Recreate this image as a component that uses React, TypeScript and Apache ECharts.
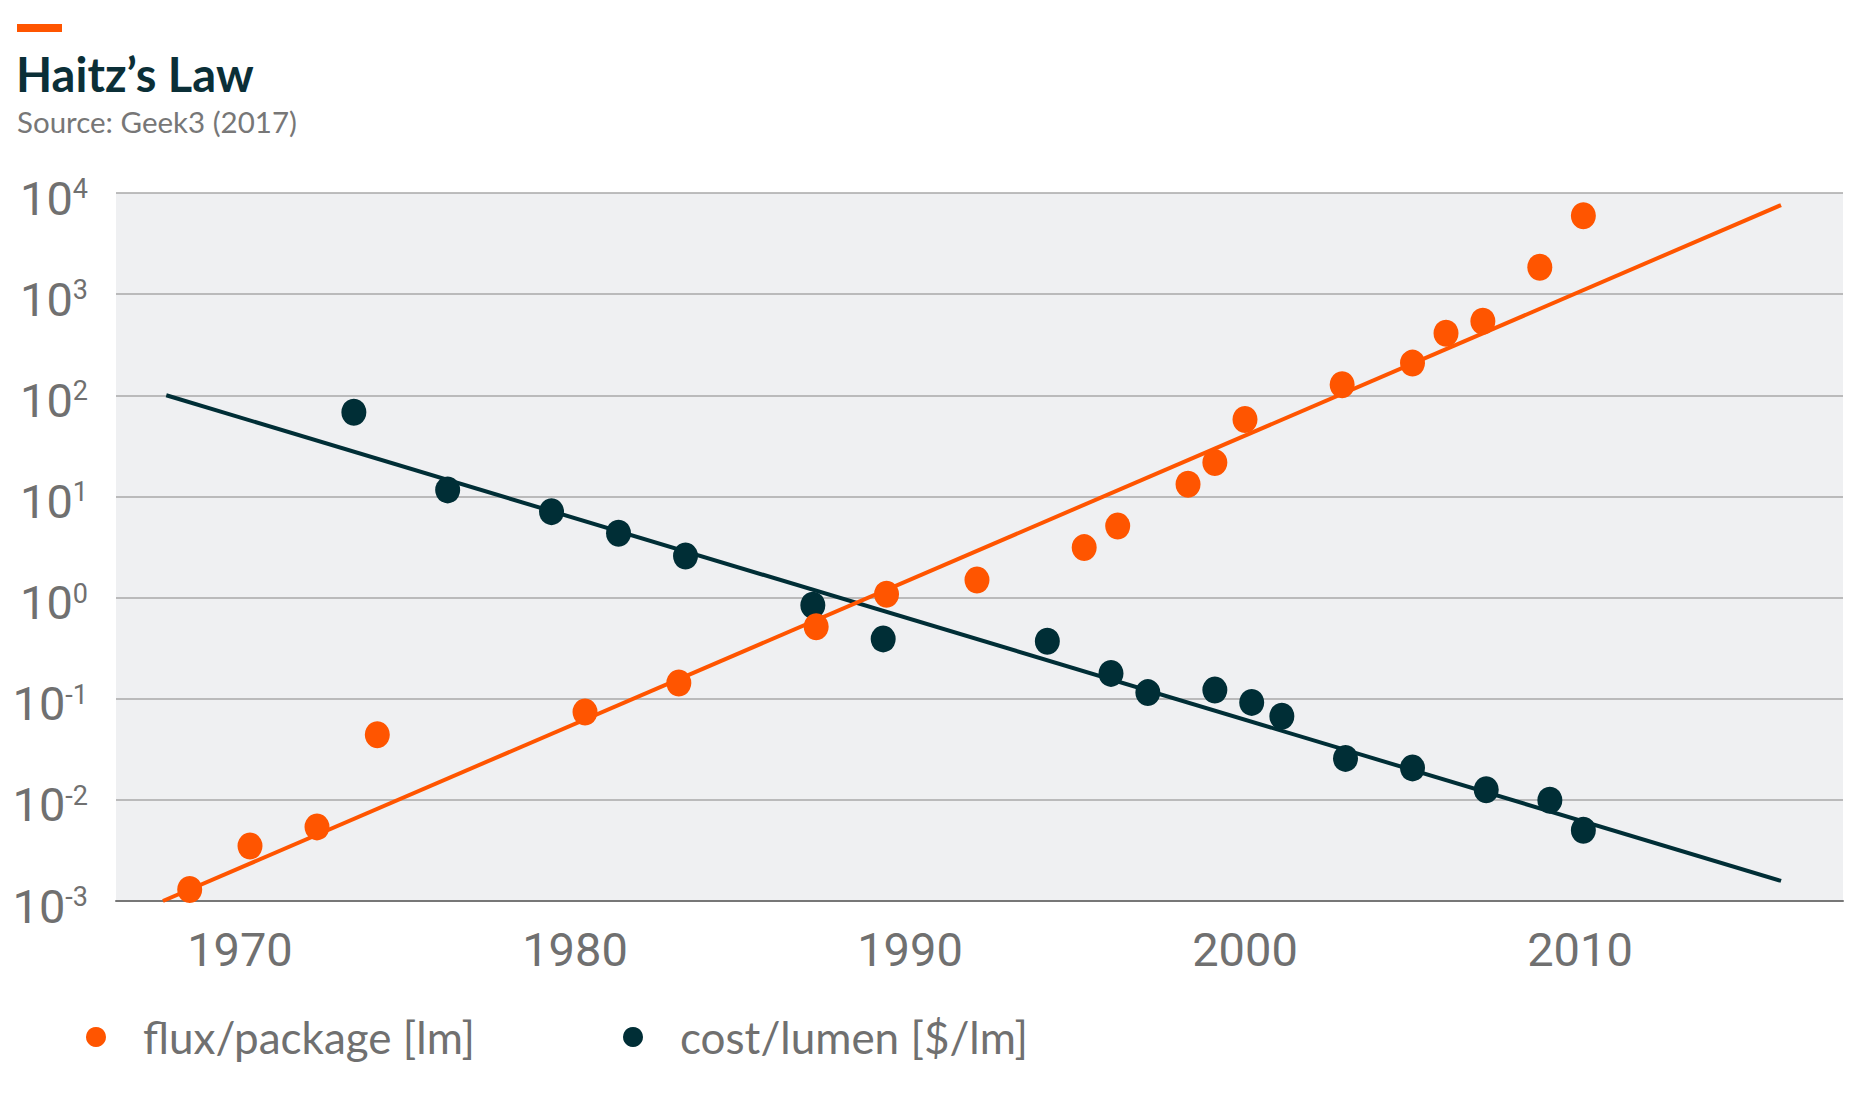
import React, { useEffect, useRef } from "react";
import * as echarts from "echarts";

const titleText = "Haitz’s Law";
const sourceText = "Source: Geek3 (2017)";

const xTickYears = [1970, 1980, 1990, 2000, 2010];

const fluxName = "flux/package [lm]";
const costName = "cost/lumen [$/lm]";

const fluxYears = [1968.5, 1970.3, 1972.3, 1974.1, 1980.3, 1983.1, 1987.2, 1989.3, 1992.0, 1995.2, 1996.2, 1998.3, 1999.1, 2000.0, 2002.9, 2005.0, 2006.0, 2007.1, 2008.8, 2010.1];
const fluxValues = [0.0013, 0.0035, 0.0054, 0.044, 0.074, 0.143, 0.515, 1.08, 1.49, 3.12, 5.1, 13.2, 21.6, 57.7, 127, 208, 411, 540, 1845, 5960];

const costYears = [1973.4, 1976.2, 1979.3, 1981.3, 1983.3, 1987.1, 1989.2, 1994.1, 1996.0, 1997.1, 1999.1, 2000.2, 2001.1, 2003.0, 2005.0, 2007.2, 2009.1, 2010.1];
const costValues = [68, 11.6, 7.07, 4.33, 2.58, 0.84, 0.39, 0.37, 0.178, 0.115, 0.122, 0.092, 0.067, 0.0257, 0.0207, 0.0126, 0.0099, 0.005];

const fluxTrendYears = [1967.7, 2016.0];
const fluxTrendValues = [0.001, 7600];
const costTrendYears = [1967.8, 2016.0];
const costTrendValues = [100, 0.00158];

const ORANGE = "#ff5500";
const DARK = "#002e36";
const GRAY_TEXT = "#707070";

const zip = (xs: number[], ys: number[]) => xs.map((x, i) => [x, ys[i]]);

const legendBase = {
  top: 1010,
  icon: "circle",
  itemWidth: 20,
  itemHeight: 22,
  textStyle: {
    fontFamily: "Lato",
    fontSize: 44,
    color: GRAY_TEXT,
    padding: [0, 0, 0, 32],
  },
};

export default function App() {
  const ref = useRef<HTMLDivElement>(null);

  useEffect(() => {
    if (!ref.current) return;
    const chart = echarts.init(ref.current, undefined, { renderer: "svg" });
    const option: any = {
      animation: false,
      backgroundColor: "#ffffff",
      graphic: [
        { type: "rect", shape: { x: 17, y: 24, width: 45, height: 8 }, style: { fill: ORANGE } },
        {
          type: "text",
          x: 16,
          y: 74,
          style: {
            text: titleText,
            font: "bold 47px Lato",
            fill: "#0b2f37",
            verticalAlign: "middle",
            align: "left",
          },
        },
        {
          type: "text",
          x: 17,
          y: 121,
          style: {
            text: sourceText,
            font: "29.5px Lato",
            fill: "#777777",
            verticalAlign: "middle",
            align: "left",
          },
        },
      ],
      legend: [
        { ...legendBase, data: [fluxName], left: 81 },
        { ...legendBase, data: [costName], left: 618 },
      ],
      grid: {
        left: 116,
        right: 33,
        top: 193,
        bottom: 200,
        show: true,
        backgroundColor: "#eff0f2",
        borderWidth: 0,
      },
      xAxis: {
        type: "value",
        min: 1966.3,
        max: 2017.85,
        axisLine: { show: true, lineStyle: { color: "#777777", width: 2 } },
        axisTick: { show: false },
        splitLine: { show: false },
        axisLabel: {
          customValues: xTickYears,
          fontFamily: "Roboto",
          fontSize: 47,
          color: GRAY_TEXT,
          margin: 25,
          formatter: (v: number) => String(Math.round(v)),
        },
      },
      yAxis: {
        type: "log",
        logBase: 10,
        min: 0.001,
        max: 10000,
        splitNumber: 7,
        axisLine: { show: false },
        axisTick: { show: false },
        splitLine: { show: true, lineStyle: { color: "#a8a8a8", width: 1.5 } },
        axisLabel: {
          margin: 28,
          padding: [10, 0, 0, 0],
          formatter: (v: number) => {
            const e = Math.round(Math.log10(v));
            return `{b|10}{s|${e}}`;
          },
          rich: {
            b: { fontFamily: "Roboto", fontSize: 47, color: GRAY_TEXT, lineHeight: 47 },
            s: { fontFamily: "Roboto", fontSize: 27, color: GRAY_TEXT, lineHeight: 27, padding: [0, 0, 18, 0] },
          },
        },
      },
      series: [
        {
          name: "cost trend",
          type: "line",
          data: zip(costTrendYears, costTrendValues),
          showSymbol: false,
          lineStyle: { color: DARK, width: 4 },
          itemStyle: { color: DARK },
          z: 2,
        },
        {
          name: "flux trend",
          type: "line",
          data: zip(fluxTrendYears, fluxTrendValues),
          showSymbol: false,
          lineStyle: { color: ORANGE, width: 4 },
          itemStyle: { color: ORANGE },
          z: 2,
        },
        {
          name: costName,
          type: "scatter",
          data: zip(costYears, costValues),
          symbol: "circle",
          symbolSize: [25, 27],
          itemStyle: { color: DARK, opacity: 1 },
          z: 3,
        },
        {
          name: fluxName,
          type: "scatter",
          data: zip(fluxYears, fluxValues),
          symbol: "circle",
          symbolSize: [25, 27],
          itemStyle: { color: ORANGE, opacity: 1 },
          z: 4,
        },
      ],
    };
    chart.setOption(option);
    return () => chart.dispose();
  }, []);

  return (
    <div
      ref={ref}
      style={{ position: "fixed", left: 0, top: 0, width: 1876, height: 1101, background: "#fff" }}
    />
  );
}
